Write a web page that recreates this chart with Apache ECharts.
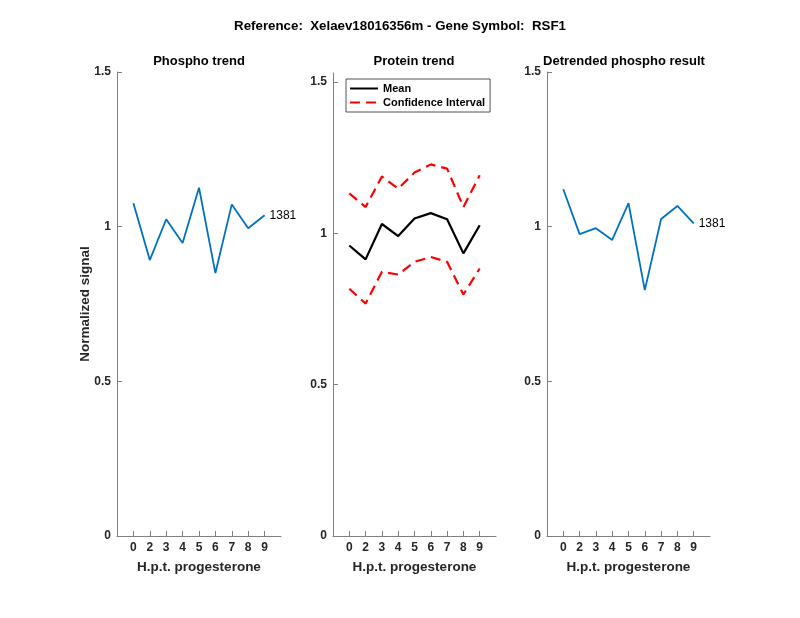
<!DOCTYPE html>
<html>
<head>
<meta charset="utf-8">
<script src="https://cdn.jsdelivr.net/npm/echarts@6/dist/echarts.min.js"></script>
<style>html,body{margin:0;padding:0;background:#fff}#c{width:800px;height:618px}</style>
</head>
<body>
<div id="c"></div>
<script>
var hpt = ['0','2','3','4','5','6','7','8','9'];
var phospho = [1.076,0.892,1.024,0.947,1.126,0.850,1.072,0.995,1.037];
var proteinMean = [0.960,0.914,1.031,0.991,1.049,1.067,1.047,0.934,1.027];
var ciUpper = [1.132,1.087,1.188,1.148,1.201,1.228,1.214,1.087,1.192];
var ciLower = [0.817,0.768,0.873,0.864,0.906,0.922,0.906,0.798,0.884];
var detrended = [1.121,0.976,0.995,0.957,1.076,0.795,1.025,1.067,1.011];
var yTicks = [0,0.5,1,1.5];
var peptideId = '1381';
var mainTitle = 'Reference:  Xelaev18016356m - Gene Symbol:  RSF1';
var panelTitles = ['Phospho trend','Protein trend','Detrended phospho result'];

var FONT = 'Liberation Sans, Arial, Helvetica, sans-serif';
var TXT = '#262626';
var AX = '#808080';
var xPos = hpt.map(function(h,i){return i+1;});
function pts(arr){ return arr.map(function(v,i){ return [i+1, v]; }); }

var grids = [
  {left:117, top:72, width:164, height:464},
  {left:333, top:73, width:163, height:463},
  {left:547, top:72, width:163, height:464}
];
var yMax = [1.5, 1.53, 1.5];

function xAxis(i){
  return {
    type:'value', gridIndex:i, min:0, max:10,
    name:'H.p.t. progesterone', nameLocation:'middle', nameGap:24, nameMoveOverlap:false,
    nameTextStyle:{fontFamily:FONT, fontWeight:'bold', fontSize:13.5, color:TXT},
    axisLine:{show:true, lineStyle:{color:AX, width:1}},
    axisTick:{show:true, inside:true, length:5, customValues:xPos, lineStyle:{color:AX}},
    axisLabel:{show:true, margin:6, customValues:xPos, fontFamily:FONT, fontWeight:'bold', fontSize:12, color:TXT,
      formatter:function(v){ return hpt[Math.round(v)-1] || ''; }},
    splitLine:{show:false}
  };
}
function yAxis(i){
  var a = {
    type:'value', gridIndex:i, min:0, max:yMax[i],
    axisLine:{show:true, lineStyle:{color:AX, width:1}},
    axisTick:{show:true, inside:true, length:5, customValues:yTicks, lineStyle:{color:AX}},
    axisLabel:{show:true, margin:6, customValues:yTicks, fontFamily:FONT, fontWeight:'bold', fontSize:12, color:TXT,
      formatter:function(v){ return String(v); }},
    splitLine:{show:false}
  };
  if(i===0){
    a.name='Normalized signal'; a.nameLocation='middle'; a.nameGap=25; a.nameMoveOverlap=false;
    a.nameTextStyle={fontFamily:FONT, fontWeight:'bold', fontSize:13.5, color:TXT};
  }
  return a;
}

var blue = '#0072BD';
var option = {
  backgroundColor:'#fff',
  animation:false,
  grid: grids,
  xAxis:[xAxis(0),xAxis(1),xAxis(2)],
  yAxis:[yAxis(0),yAxis(1),yAxis(2)],
  legend:{
    left:346, top:79, orient:'vertical', itemGap:3, itemWidth:28, itemHeight:11,
    padding:[4,5,4,3], borderColor:'#262626', borderWidth:0.8, backgroundColor:'#fff',
    itemStyle:{opacity:0},
    textStyle:{fontFamily:FONT, fontWeight:'bold', fontSize:11, color:'#000'},
    data:['Mean','Confidence Interval']
  },
  graphic:[
    {type:'text', x:400, y:26, style:{text:mainTitle, align:'center', verticalAlign:'middle', font:'bold 13.3px '+FONT, fill:'#000'}},
    {type:'text', x:199, y:61, style:{text:panelTitles[0], align:'center', verticalAlign:'middle', font:'bold 13px '+FONT, fill:'#000'}},
    {type:'text', x:414, y:61, style:{text:panelTitles[1], align:'center', verticalAlign:'middle', font:'bold 13px '+FONT, fill:'#000'}},
    {type:'text', x:624, y:61, style:{text:panelTitles[2], align:'center', verticalAlign:'middle', font:'bold 13px '+FONT, fill:'#000'}}
  ],
  series:[
    {type:'line', name:'phospho', xAxisIndex:0, yAxisIndex:0, data:pts(phospho), symbol:'none',
      lineStyle:{color:blue, width:1.8}, itemStyle:{color:blue},
      endLabel:{show:true, formatter:peptideId, distance:5, fontFamily:FONT, fontSize:12, color:'#000'}},
    {type:'line', name:'Mean', xAxisIndex:1, yAxisIndex:1, data:pts(proteinMean), symbol:'none',
      lineStyle:{color:'#000', width:2.2}, itemStyle:{color:'#000'}},
    {type:'line', name:'Confidence Interval', xAxisIndex:1, yAxisIndex:1, data:pts(ciUpper), symbol:'none',
      lineStyle:{color:'#ff0000', width:2.2, type:[10,6]}, itemStyle:{color:'#ff0000'}},
    {type:'line', name:'Confidence Interval', xAxisIndex:1, yAxisIndex:1, data:pts(ciLower), symbol:'none',
      lineStyle:{color:'#ff0000', width:2.2, type:[10,6]}, itemStyle:{color:'#ff0000'}},
    {type:'line', name:'detrended', xAxisIndex:2, yAxisIndex:2, data:pts(detrended), symbol:'none',
      lineStyle:{color:blue, width:1.8}, itemStyle:{color:blue},
      endLabel:{show:true, formatter:peptideId, distance:5, fontFamily:FONT, fontSize:12, color:'#000'}}
  ]
};
var chart = echarts.init(document.getElementById('c'), null, {renderer:'canvas'});
chart.setOption(option);
</script>
</body>
</html>
